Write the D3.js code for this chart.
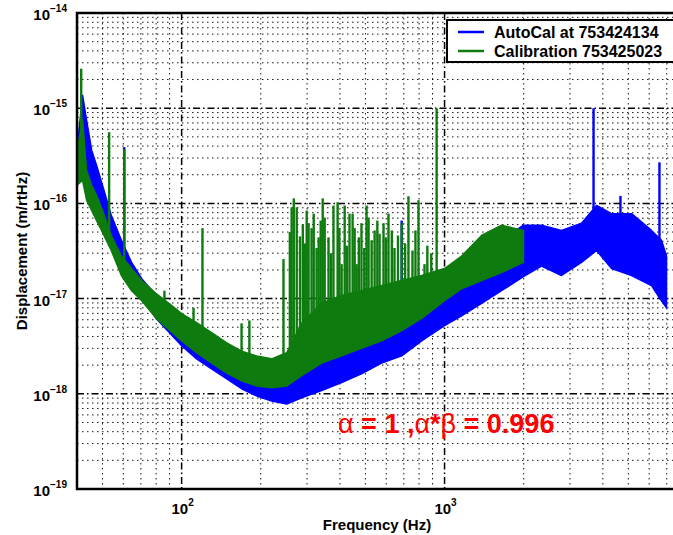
<!DOCTYPE html>
<html>
<head>
<meta charset="utf-8">
<title>displacement</title>
<script src="https://cdn.jsdelivr.net/npm/d3@7"></script>
<style>
  body { margin: 0; background: #fff; }
  text { font-family: "Liberation Sans", Arial, sans-serif; font-weight: bold; }
</style>
</head>
<body>
<script>
// frequencies (Hz) where the dense traces were sampled
var bandFreq = [40, 42, 43.5, 45.5, 47.5, 50, 54, 59, 64.5, 70.5, 80, 92, 100, 114, 130, 148, 169, 193,
  220, 251, 286, 341, 406, 483, 576, 687, 818, 1000, 1161, 1383, 1647, 1995,
  2337, 2786, 3318, 3786, 4317, 5143, 6124, 6683, 6986];

// AutoCal at 753424134 (blue) : upper / lower edge of the trace, m/rtHz
var blueHigh = [3.6e-16, 1.37e-15, 7.5e-16, 3.6e-16, 2.5e-16, 1.55e-16, 7.5e-17, 4.1e-17, 2.4e-17, 1.62e-17,
  1.08e-17, 7.85e-18, 6.6e-18, 5.2e-18, 4.1e-18, 3.2e-18, 2.7e-18, 2.33e-18, 2.2e-18, 2.5e-18,
  3.2e-18, 3.6e-18, 4.1e-18, 5.2e-18, 6.6e-18, 8.4e-18, 1.08e-17, 1.55e-17, 1.97e-17, 2.8e-17,
  4.1e-17, 5.9e-17, 5.9e-17, 5.2e-17, 6.2e-17, 9.5e-17, 7.8e-17, 7.8e-17, 5.2e-17, 4.1e-17, 2.8e-17];
var blueLow = [2.5e-16, 1.97e-16, 1.37e-16, 1.08e-16, 8.0e-17, 5.9e-17, 3.6e-17, 2.07e-17, 1.37e-17, 1.03e-17,
  6.2e-18, 4.1e-18, 3.2e-18, 2.33e-18, 1.83e-18, 1.44e-18, 1.13e-18, 9.5e-19, 8.4e-19, 7.8e-19,
  9.1e-19, 1.08e-18, 1.31e-18, 1.62e-18, 2.1e-18, 2.5e-18, 3.6e-18, 5.2e-18, 6.6e-18, 8.9e-18,
  1.21e-17, 1.7e-17, 2.2e-17, 1.75e-17, 2.4e-17, 3.2e-17, 2.07e-17, 1.75e-17, 1.37e-17, 9.5e-18, 8.0e-18];

// Calibration 753425023 (green) : stops near 2 kHz
var greenHigh = [3.6e-16, 7.5e-16, 2.2e-16, 1.55e-16, 1.21e-16, 8.4e-17, 4.6e-17, 2.8e-17, 2.07e-17, 1.55e-17,
  1.13e-17, 8.4e-18, 6.95e-18, 5.6e-18, 4.4e-18, 3.44e-18, 2.8e-18, 2.5e-18, 2.33e-18, 2.7e-18,
  5.5e-18, 9.0e-18, 1.08e-17, 1.21e-17, 1.37e-17, 1.55e-17, 1.75e-17, 2.07e-17, 2.8e-17, 4.6e-17,
  5.9e-17, 5.2e-17];
var greenLow = [1.55e-16, 1.75e-16, 1.08e-16, 8.4e-17, 6.6e-17, 4.95e-17, 3.2e-17, 1.75e-17, 1.21e-17, 9.5e-18,
  6.2e-18, 4.4e-18, 3.6e-18, 2.7e-18, 2.1e-18, 1.66e-18, 1.37e-18, 1.21e-18, 1.16e-18, 1.21e-18,
  1.55e-18, 2.1e-18, 2.5e-18, 3.0e-18, 3.6e-18, 4.6e-18, 6.2e-18, 9.5e-18, 1.27e-17, 1.55e-17,
  1.88e-17, 2.4e-17];

// narrow lines sticking out of the traces: [frequency, peak]
var blueLines = [[60.5, 3.9e-16], [687, 6.6e-17], [3687, 1.0e-15], [4667, 1.2e-16], [6566, 2.7e-16]];
var greenLines = [[41.5, 2.6e-15], [53, 5.6e-16], [60.5, 3.7e-16], [86, 1.21e-17], [111, 8.0e-18],
  [120, 5.5e-17], [169, 5.5e-18], [181, 5.9e-18], [244, 2.6e-17], [258, 5.0e-17], [262, 9.1e-17],
  [267, 1.13e-16], [274, 9.1e-17], [282, 4.5e-17], [289, 6.0e-17], [294, 3.8e-17], [299, 8.4e-17],
  [304, 6.2e-17], [312, 5.5e-17], [318, 7.8e-17], [326, 3.4e-17], [332, 4.4e-17], [338, 6.6e-17],
  [344, 1.13e-16], [350, 7.1e-17], [362, 4.4e-17], [370, 3.0e-17], [378, 9.5e-17], [392, 1.03e-16],
  [398, 5.5e-17], [406, 2.3e-17], [417, 9.5e-17], [425, 3.6e-17], [435, 7.8e-17], [447, 7.8e-17],
  [455, 5.5e-17], [463, 2.3e-17], [472, 4.4e-17], [483, 6.2e-17], [495, 3.4e-17], [505, 9.5e-17],
  [514, 7.1e-17], [528, 4.1e-17], [542, 5.2e-17], [555, 6.6e-17], [566, 4.8e-17], [586, 6.2e-17],
  [598, 4.4e-17], [612, 7.8e-17], [630, 5.2e-17], [645, 3.4e-17], [665, 4.6e-17], [687, 6.2e-17],
  [708, 3.8e-17], [729, 1.19e-16], [755, 3.2e-17], [775, 5.2e-17], [796, 1.08e-16], [839, 2.3e-17],
  [860, 3.6e-17], [890, 3.0e-17], [933, 1.0e-15]];

var xTicks = [100, 1000];
var xTickLabels = ["2", "3"];
var yTicks = [1e-19, 1e-18, 1e-17, 1e-16, 1e-15, 1e-14];
var yTickLabels = ["\u221219", "\u221218", "\u221217", "\u221216", "\u221215", "\u221214"];

var legendNames = ["AutoCal at 753424134", "Calibration 753425023"];
var colors = ["#0000ff", "#0e7b0e"];

var margin = {top: 13, left: 77},
    width = 605,
    height = 476;

var svg = d3.select("body").append("svg")
    .attr("width", 673)
    .attr("height", 535);

var g = svg.append("g")
    .attr("transform", "translate(" + margin.left + "," + margin.top + ")");

var x = d3.scaleLog().domain([40, 8000]).range([0, width]);
var y = d3.scaleLog().domain([1e-19, 1e-14]).range([height, 0]);

// grid
var xMinor = [], yMinor = [];
[10, 100, 1000].forEach(function(d) {
  for (var k = 2; k <= 9; k++) if (d * k >= 40 && d * k <= 8000) xMinor.push(d * k);
});
[1e-19, 1e-18, 1e-17, 1e-16, 1e-15].forEach(function(d) {
  for (var k = 2; k <= 9; k++) yMinor.push(d * k);
});

var grid = g.append("g").attr("stroke", "#000").attr("fill", "none");
grid.selectAll(".xm").data(xMinor).enter().append("line")
  .attr("x1", d => x(d)).attr("x2", d => x(d)).attr("y1", 0).attr("y2", height)
  .attr("stroke-width", 1).attr("stroke-dasharray", "1.5,3.5").attr("stroke-opacity", 0.9);
grid.selectAll(".ym").data(yMinor).enter().append("line")
  .attr("y1", d => y(d)).attr("y2", d => y(d)).attr("x1", 0).attr("x2", width)
  .attr("stroke-width", 1).attr("stroke-dasharray", "1.5,3.5").attr("stroke-opacity", 0.9);
grid.selectAll(".xM").data(xTicks).enter().append("line")
  .attr("x1", d => x(d)).attr("x2", d => x(d)).attr("y1", 0).attr("y2", height)
  .attr("stroke-width", 1.5).attr("stroke-dasharray", "7,3,1.5,3");
grid.selectAll(".yM").data(yTicks.slice(1, -1)).enter().append("line")
  .attr("y1", d => y(d)).attr("y2", d => y(d)).attr("x1", 0).attr("x2", width)
  .attr("stroke-width", 1.5).attr("stroke-dasharray", "7,3,1.5,3");

// traces
var blueBand = bandFreq.map((f, i) => ({f: f, hi: blueHigh[i], lo: blueLow[i]}));
var greenBand = greenHigh.map((v, i) => ({f: bandFreq[i], hi: v, lo: greenLow[i]}));

var band = d3.area()
  .x(d => x(d.f))
  .y0(d => y(d.lo))
  .y1(d => y(d.hi));

// base of a narrow line: the lower edge of its trace at that frequency
function baseScale(lo) {
  return d3.scaleLog().domain(bandFreq.slice(0, lo.length)).range(lo.map(v => y(v))).clamp(true);
}
var blueBase = baseScale(blueLow);
var greenBase = baseScale(greenLow);

function drawTrace(data, lines, base, color) {
  var t = g.append("g");
  t.append("path").datum(data)
    .attr("d", band)
    .attr("fill", color)
    .attr("stroke", color)
    .attr("stroke-width", 1.5)
    .attr("stroke-linejoin", "round");
  t.selectAll("line").data(lines).enter().append("line")
    .attr("x1", d => x(d[0])).attr("x2", d => x(d[0]))
    .attr("y1", d => y(d[1])).attr("y2", d => base(d[0]))
    .attr("stroke", color).attr("stroke-width", 2.4);
}
drawTrace(blueBand, blueLines, blueBase, colors[0]);
drawTrace(greenBand, greenLines, greenBase, colors[1]);

// annotation
var note = svg.append("text")
  .attr("x", 338).attr("y", 433)
  .attr("fill", "#ff0000")
  .attr("font-size", 27);
note.append("tspan").attr("font-weight", "normal").text("\u03b1");
note.append("tspan").text(" = 1 ,");
note.append("tspan").attr("font-weight", "normal").text("\u03b1");
note.append("tspan").text("*");
note.append("tspan").attr("font-weight", "normal").text("\u03b2");
note.append("tspan").text(" = 0.996");

// legend
var leg = svg.append("g").attr("transform", "translate(447,20)");
leg.append("rect").attr("width", 240).attr("height", 42)
  .attr("fill", "#fff").attr("stroke", "#000").attr("stroke-width", 2);
legendNames.forEach(function(name, i) {
  leg.append("line").attr("x1", 11).attr("x2", 37)
    .attr("y1", 12 + i * 19).attr("y2", 12 + i * 19)
    .attr("stroke", colors[i]).attr("stroke-width", 2.5);
  leg.append("text").attr("x", 47).attr("y", 17.5 + i * 19)
    .attr("font-size", 16).text(name);
});

// frame
g.append("path")
  .attr("d", "M" + width + ",0H0V" + height + "H" + width)
  .attr("fill", "none").attr("stroke", "#000").attr("stroke-width", 2.5);

// tick labels
var yl = g.selectAll(".yl").data(yTicks).enter().append("text")
  .attr("x", -10).attr("y", d => y(d) + 7)
  .attr("text-anchor", "end")
  .attr("font-size", 15);
yl.append("tspan").text("10");
yl.append("tspan").attr("dy", -8).attr("font-size", 10).text((d, i) => yTickLabels[i]);

var xl = g.selectAll(".xl").data(xTicks).enter().append("text")
  .attr("x", d => x(d) + 1).attr("y", height + 25)
  .attr("text-anchor", "middle")
  .attr("font-size", 15);
xl.append("tspan").text("10");
xl.append("tspan").attr("dy", -8).attr("font-size", 10).text((d, i) => xTickLabels[i]);

// axis titles
svg.append("text")
  .attr("x", 377).attr("y", 530)
  .attr("text-anchor", "middle")
  .attr("font-size", 15)
  .text("Frequency (Hz)");
svg.append("text")
  .attr("transform", "translate(27,251) rotate(-90)")
  .attr("text-anchor", "middle")
  .attr("font-size", 15)
  .text("Displacement (m/rtHz)");
</script>
</body>
</html>
